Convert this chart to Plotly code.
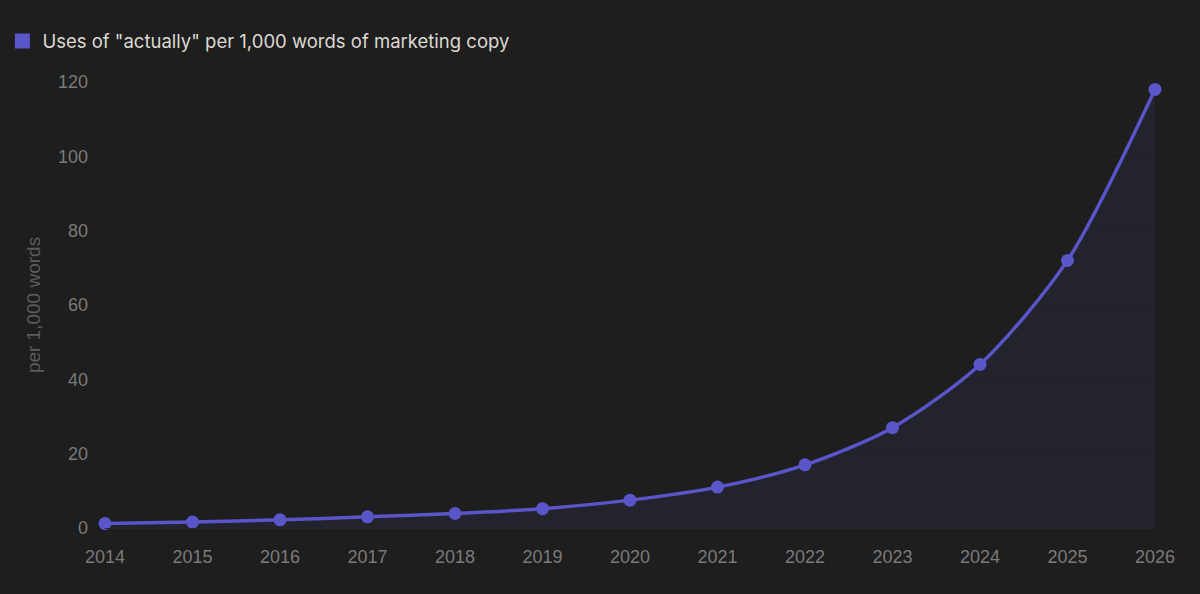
import plotly.graph_objects as go

years = [2014, 2015, 2016, 2017, 2018, 2019, 2020, 2021, 2022, 2023, 2024, 2025, 2026]
uses_per_1000 = [1.2, 1.6, 2.2, 3.0, 3.9, 5.2, 7.5, 11.0, 17.0, 27.0, 44.0, 72.0, 118.0]
series_name = "Uses of \"actually\" per 1,000 words of marketing copy"
y_ticks = [0, 20, 40, 60, 80, 100, 120]

PURPLE = "#5a55c8"
BG = "#1e1e1e"

fig = go.Figure()

fig.add_trace(go.Scatter(
    x=years,
    y=uses_per_1000,
    mode="lines+markers",
    line=dict(color=PURPLE, width=3.5, shape="spline", smoothing=0.8),
    marker=dict(color=PURPLE, size=13),
    fill="tozeroy",
    fillcolor="rgba(90,85,200,0.09)",
    cliponaxis=False,
    showlegend=False,
))

# legend swatch only
fig.add_trace(go.Scatter(
    x=[None], y=[None],
    mode="markers",
    marker=dict(color=PURPLE, size=15, symbol="square"),
    name=series_name,
))

fig.update_layout(
    width=1200,
    height=594,
    paper_bgcolor=BG,
    plot_bgcolor=BG,
    margin=dict(l=105, r=45, t=82, b=66),
    font=dict(family="Liberation Sans, Arial, sans-serif", color="#7a7a7a", size=18),
    showlegend=True,
    legend=dict(
        orientation="h",
        xref="container", yref="container",
        x=0.002, y=0.962,
        xanchor="left", yanchor="top",
        font=dict(family="Inter, sans-serif", size=18.5, color="#dcd9d2"),
        bgcolor="rgba(0,0,0,0)",
        itemwidth=30,
    ),
    xaxis=dict(
        range=[2014, 2026],
        tickvals=years,
        ticktext=[str(y) for y in years],
        showgrid=False,
        zeroline=False,
        showline=True,
        linecolor="#262626",
        linewidth=1,
        ticks="",
        ticklabelstandoff=12,
        tickfont=dict(size=18, color="#7a7a7a"),
    ),
    yaxis=dict(
        range=[0, 120],
        tickvals=y_ticks,
        showgrid=True,
        gridcolor="#1a1a1a",
        gridwidth=1,
        zeroline=False,
        ticks="",
        ticklabelstandoff=16,
        tickfont=dict(size=18, color="#7a7a7a"),
        title=dict(text="per 1,000 words", font=dict(size=19, color="#5c5c5c"), standoff=12),
    ),
)

fig.write_html(
    "out.html",
    config={"displayModeBar": False},
    post_script="document.body.style.margin='0';document.body.style.background='#1e1e1e';",
)
